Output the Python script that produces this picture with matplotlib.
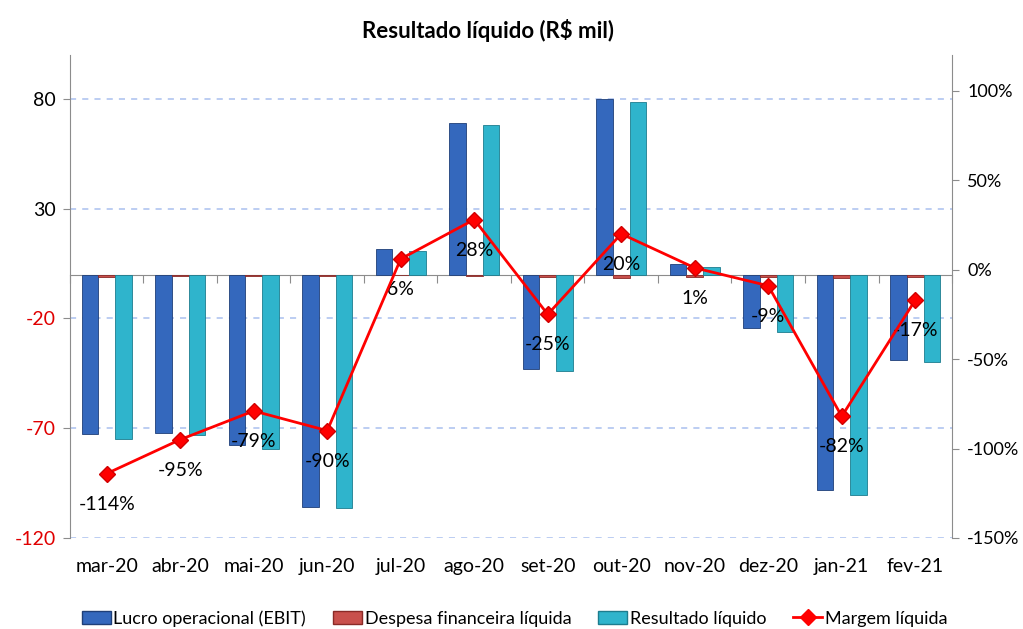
import numpy as np
import matplotlib
matplotlib.use("Agg")
import matplotlib.pyplot as plt
from matplotlib.patches import Patch
from matplotlib.lines import Line2D
from matplotlib.transforms import blended_transform_factory

plt.rcParams["font.family"] = ["Lato", "DejaVu Sans"]
plt.rcParams["axes.unicode_minus"] = False

months = ["mar-20", "abr-20", "mai-20", "jun-20", "jul-20", "ago-20",
          "set-20", "out-20", "nov-20", "dez-20", "jan-21", "fev-21"]
ebit = [-72.8, -72.1, -77.8, -105.9, 11.5, 69.1, -43.0, 80.0, 5.0, -24.4, -98.1, -38.9]
despesa = [-1.0, -0.8, -0.8, -0.6, -0.3, -0.5, -1.0, -1.5, -1.2, -1.0, -1.5, -1.0]
resultado = [-75.1, -73.3, -79.3, -106.5, 10.6, 68.3, -44.0, 78.7, 3.5, -26.0, -100.4, -39.9]
margem = [-114, -95, -79, -90, 6, 28, -25, 20, 1, -9, -82, -17]

C_EBIT = "#3468bd"
C_DESP = "#c9504c"
C_RES = "#2fb4cc"
C_LINE = "#ff0000"
GRAY = "#8c8c8c"

fig = plt.figure(figsize=(10.23, 6.29), dpi=100)
ax = fig.add_axes([0.0684, 0.1447, 0.8622, 0.7679])
ax2 = ax.twinx()

x = np.arange(len(months))
w = 0.227
ax.bar(x - w, ebit, w, color=C_EBIT, edgecolor="#1f3f78", linewidth=0.6, zorder=3)
ax.bar(x, despesa, w, color=C_DESP, edgecolor="#8a2a27", linewidth=0.6, zorder=3)
ax.bar(x + w, resultado, w, color=C_RES, edgecolor="#1d7c8e", linewidth=0.6, zorder=3)

yt = [-120, -70, -20, 30, 80]
ax.set_xlim(-0.5, len(months) - 0.5)
ax.set_ylim(-120, 100)
ax.set_yticks(yt)
ax.yaxis.grid(True, color="#a9c0ef", linestyle=(0, (4, 4)), linewidth=1.1)
ax.set_axisbelow(True)
ax.tick_params(axis="y", labelsize=14, colors=GRAY, length=5, pad=5)
for lbl, v in zip(ax.get_yticklabels(), yt):
    lbl.set_color("#e00000" if v < 0 else "black")

# category axis crosses at zero
ax.spines["bottom"].set_position(("data", 0))
ax.spines["bottom"].set_color(GRAY)
ax.spines["top"].set_visible(False)
ax.spines["left"].set_color(GRAY)
ax.spines["right"].set_visible(False)
ax.set_xticks(np.arange(-0.5, len(months), 1.0))
ax.set_xticklabels([])
ax.tick_params(axis="x", colors=GRAY, length=6, direction="out")
tr = blended_transform_factory(ax.transData, ax.transAxes)
for i, m in enumerate(months):
    ax.text(i, -0.06, m, transform=tr, ha="center", va="center", fontsize=14)

ax2.plot(x, margem, color=C_LINE, linewidth=2, marker="D", markersize=8,
         markerfacecolor=C_LINE, markeredgecolor="#d00000", zorder=4)
for i, m in enumerate(margem):
    ax2.annotate(f"{m}%", (i, m), xytext=(0, -22), textcoords="offset points",
                 ha="center", va="center", fontsize=14)
pt = [-150, -100, -50, 0, 50, 100]
ax2.set_ylim(-150, 120)
ax2.set_yticks(pt)
ax2.set_yticklabels([f"{v}%" for v in pt])
ax2.tick_params(axis="y", labelsize=13, colors=GRAY, length=5, pad=6)
for lbl in ax2.get_yticklabels():
    lbl.set_color("black")
for s in ["top", "left", "bottom"]:
    ax2.spines[s].set_visible(False)
ax2.spines["right"].set_color(GRAY)

fig.text(0.477, 0.952, "Resultado líquido (R$ mil)", ha="center", va="center",
         fontsize=16, fontweight="bold")

handles = [Patch(facecolor=C_EBIT, edgecolor="#1f3f78"),
           Patch(facecolor=C_DESP, edgecolor="#8a2a27"),
           Patch(facecolor=C_RES, edgecolor="#1d7c8e"),
           Line2D([0], [0], color=C_LINE, linewidth=2, marker="D", markersize=8)]
labels = ["Lucro operacional (EBIT)", "Despesa financeira líquida",
          "Resultado líquido", "Margem líquida"]
fig.legend(handles, labels, loc="center", bbox_to_anchor=(0.503, 0.017), ncol=4,
           frameon=False, fontsize=13, handlelength=1.6, handletextpad=0.15,
           columnspacing=1.5)

fig.savefig("out.png", dpi=100)
